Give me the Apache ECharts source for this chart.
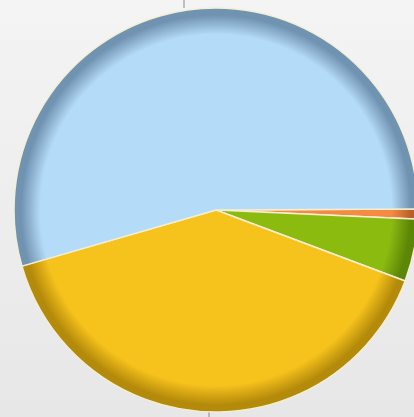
<!DOCTYPE html>
<html>
<head>
<meta charset="utf-8">
<script src="https://cdn.jsdelivr.net/npm/echarts@6/dist/echarts.min.js"></script>
<style>
  html, body { margin: 0; padding: 0; }
  #chart { width: 414px; height: 417px; }
</style>
</head>
<body>
<div id="chart"></div>
<script>
// 数据（按顺时针从右侧水平线开始）
const categories = ['Orange', 'Green', 'Yellow', 'Blue']
const values = [0.8, 5.0, 39.8, 54.4]
const baseColors = ['#f48b40', '#8cbb10', '#f6c21c', '#b4dbf7']
const rimColors = ['#b8602a', '#5c8606', '#b48a0a', '#7093b2']

const cx = 216
const cy = 210
const radius = 202

const myChart = echarts.init(document.getElementById('chart'))

// 边缘加深的径向渐变
const rimGradient = (base, rim) =>
  new echarts.graphic.RadialGradient(cx, cy, radius, [
    { offset: 0, color: base },
    { offset: 0.87, color: base },
    { offset: 0.965, color: rim },
    { offset: 1, color: rim }
  ], true)

const option = {
  backgroundColor: new echarts.graphic.LinearGradient(0, 0, 0, 1, [
    { offset: 0, color: '#f4f4f4' },
    { offset: 1, color: '#e7e7e7' }
  ]),
  animation: false,
  graphic: [
    { type: 'line', shape: { x1: 184, y1: 0, x2: 184, y2: 8 }, style: { stroke: '#8a8a8a', lineWidth: 1 } },
    { type: 'line', shape: { x1: 209, y1: 411, x2: 209, y2: 417 }, style: { stroke: '#8a8a8a', lineWidth: 1 } }
  ],
  series: [
    {
      type: 'pie',
      center: [cx, cy],
      radius: radius,
      startAngle: 0.3,
      clockwise: true,
      label: { show: false },
      labelLine: { show: false },
      emphasis: { disabled: true },
      itemStyle: {
        borderColor: '#f4eed2',
        borderWidth: 1.5
      },
      data: categories.map((name, i) => ({
        name,
        value: values[i],
        itemStyle: { color: rimGradient(baseColors[i], rimColors[i]) }
      }))
    }
  ]
}

myChart.setOption(option)
</script>
</body>
</html>
